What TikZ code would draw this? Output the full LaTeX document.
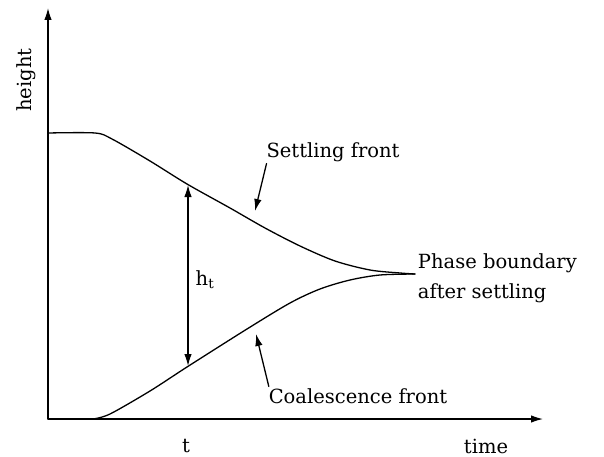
\documentclass[tikz,border=0pt]{standalone}
\usepackage{fontspec}
\setmainfont{DejaVu Serif}
\usetikzlibrary{arrows.meta}
\begin{document}
\begin{tikzpicture}[x=1pt, y=-1pt, line width=1.3pt, line join=round, line cap=round, font=\fontsize{19.5}{30}\selectfont, >={Latex[length=12pt,width=7.5pt]}]
	\useasboundingbox (0,0) rectangle (604,457);
	\coordinate (O) at (48,419);
	\coordinate (yend) at (48,8);
	\coordinate (xend) at (543,419);
	\draw[->] (O)--(yend);
	\draw[->] (O)--(xend);
	\node[rotate=90] (height) at (26,80) {height};
	\node (time) at (486,446) {time};
	\node (t) at (186,446) {t};
	% settling and coalescence fronts
	\draw plot[smooth, tension=0.5] coordinates {(48,133) (95,133) (112,139) (150,161) (187,184) (230,208) (265,228) (300,246) (335,261) (370,270) (400,273) (415,274)};
	\draw plot[smooth, tension=0.5] coordinates {(93,419) (110,414) (150,391) (187,367) (247,329) (290,303) (320,289) (350,280) (380,275) (415,274)};
	\coordinate (htop) at (188,185);
	\coordinate (hbot) at (188,366);
	\draw[<->] (htop)--(hbot);
	\node (ht) at (205,280) {h\textsubscript{t}};
	\node (settling) at (333,152) {Settling front};
	\coordinate (settlingtip) at (255,211);
	\draw[->] ([xshift=4pt,yshift=2pt]settling.south west)--(settlingtip);
	\node (coalescence) at (358,396) {Coalescence front};
	\coordinate (coalescencetip) at (256,334);
	\draw[->] ([xshift=4pt,yshift=-2pt]coalescence.north west)--(coalescencetip);
	\node[align=left, anchor=west] (phase) at (414,278) {Phase boundary\\after settling};
\end{tikzpicture}
\end{document}
